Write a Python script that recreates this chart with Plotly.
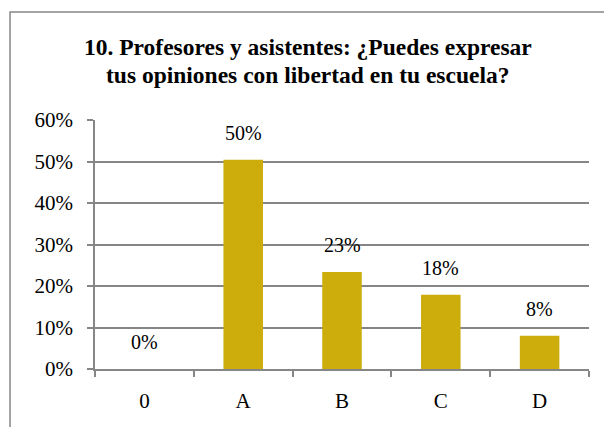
import plotly.graph_objects as go

categories = ["0", "A", "B", "C", "D"]
values = [0.0, 0.504, 0.234, 0.179, 0.080]
labels = ["0%", "50%", "23%", "18%", "8%"]
title_lines = ["10. Profesores y asistentes: ¿Puedes expresar",
               "tus opiniones con libertad en tu escuela?"]

FONT = "Liberation Serif, Times New Roman, serif"
GRAY = "#868686"

fig = go.Figure()
fig.add_trace(go.Bar(
    x=categories, y=values,
    marker=dict(color="#CCAD0C", line=dict(width=0)),
    width=0.40,
    hoverinfo="skip",
))

for c, v, t in zip(categories, values, labels):
    fig.add_annotation(x=c, y=v, text=t, showarrow=False, yshift=27,
                       font=dict(family=FONT, size=20, color="#000000"))

# two-line title, placed line by line to get the tighter line spacing
for line, ty in zip(title_lines, [1.293, 1.181]):
    fig.add_annotation(xref="paper", yref="paper", x=0.431, y=ty, text="<b>%s</b>" % line,
                       showarrow=False, xanchor="center", yanchor="middle",
                       font=dict(family=FONT, size=23.5, color="#000000"))

# outer chart border (partially cropped like the reference)
fig.add_shape(type="rect", xref="paper", yref="paper",
              x0=-0.172, x1=1.3, y0=-0.6, y1=1.434,
              line=dict(color=GRAY, width=1.5), fillcolor="rgba(0,0,0,0)", layer="below")

# page body adds an 8px offset, margins compensate for it
fig.update_layout(
    width=612, height=427,
    margin=dict(l=87, r=31, t=112, b=66),
    paper_bgcolor="white", plot_bgcolor="white",
    showlegend=False,
    font=dict(family=FONT, size=20, color="#000000"),
)
fig.update_xaxes(
    showline=True, linecolor=GRAY, linewidth=1.5,
    ticks="outside", tickson="boundaries", ticklen=6, tickcolor=GRAY, tickwidth=1.5,
    ticklabelstandoff=12, showgrid=False,
    tickfont=dict(family=FONT, size=21),
)
fig.update_yaxes(
    range=[0, 0.6], dtick=0.1, tickformat=".0%",
    showline=True, linecolor=GRAY, linewidth=1.5,
    showgrid=True, gridcolor=GRAY, gridwidth=1.5,
    ticks="outside", ticklen=6, tickcolor=GRAY, tickwidth=1.5,
    ticklabelstandoff=10, zeroline=False,
    tickfont=dict(family=FONT, size=21),
)

fig.write_html("out.html")
